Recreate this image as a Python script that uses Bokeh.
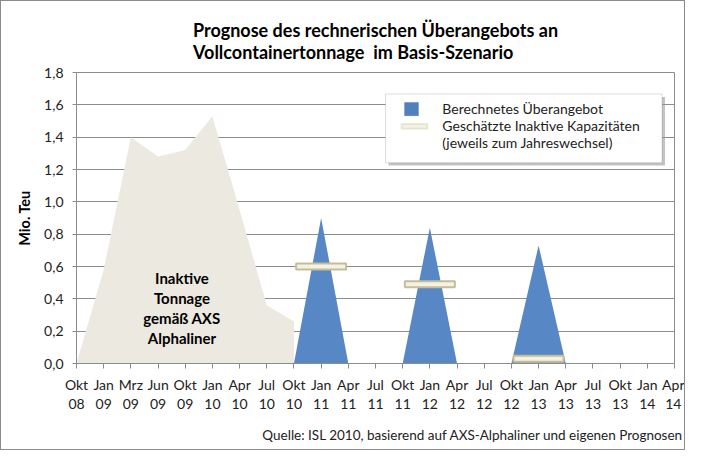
from bokeh.plotting import figure
from bokeh.models import (Range1d, FixedTicker, CustomJSTickFormatter, Label, Title,
                          BoxAnnotation)
from bokeh.embed import file_html
from bokeh.resources import INLINE

# ---------------- data ----------------
x_labels = ["Okt\n08", "Jan\n09", "Mrz\n09", "Jun\n09", "Okt\n09", "Jan\n10", "Apr\n10",
            "Jul\n10", "Okt\n10", "Jan\n11", "Apr\n11", "Jul\n11", "Okt\n11", "Jan\n12",
            "Apr\n12", "Jul\n12", "Okt\n12", "Jan\n13", "Apr\n13", "Jul\n13", "Okt\n13",
            "Jan\n14", "Apr\n14"]

# Inactive tonnage (AXS Alphaliner), periods 0..8
inaktiv_x = [0, 1, 2, 3, 4, 5, 6, 7, 8]
inaktiv_val = [0.0, 0.58, 1.40, 1.28, 1.32, 1.53, 0.95, 0.36, 0.26]

# Calculated oversupply, periods 8..18
ueber_x = [8, 9, 10, 11, 12, 13, 14, 15, 16, 17, 18]
ueber_val = [0.0, 0.90, 0.0, 0.0, 0.0, 0.84, 0.0, 0.0, 0.0, 0.73, 0.0]

# Estimated inactive capacities at year change
kap_x = [9, 13, 17]
kap_val = [0.60, 0.49, 0.03]

y_ticks = [0.0, 0.2, 0.4, 0.6, 0.8, 1.0, 1.2, 1.4, 1.6, 1.8]

FONT = "Lato"
GREY_AREA = "#ECE9E1"
BLUE = "#5787C5"
CREAM = "#F4F2E4"
KHAKI = "#C4BD97"
GRID = "#8C8C8C"

p = figure(width=685, height=450, x_range=Range1d(0, 22), y_range=Range1d(0, 1.8),
           output_backend="svg", toolbar_location=None,
           min_border_left=75, min_border_right=12, min_border_top=71, min_border_bottom=83)
p.styles = {"border": "1px solid #8c8c8c"}
p.background_fill_color = "white"
p.border_fill_color = "white"
p.outline_line_color = GRID
p.outline_line_width = 1

# title
p.title.text = "Prognose des rechnerischen Überangebots an\nVollcontainertonnage\u00a0 im Basis-Szenario"
p.title.align = "center"
p.title.text_font = FONT
p.title.text_font_size = "18px"
p.title.text_font_style = "bold"
p.title.text_line_height = 1.02
p.title.text_color = "black"
p.title.standoff = 18

# glyphs
p.varea(x=inaktiv_x, y1=0, y2=inaktiv_val, fill_color=GREY_AREA)
p.varea(x=ueber_x, y1=0, y2=ueber_val, fill_color=BLUE)
p.rect(x=kap_x, y=kap_val, width=50, height=6, width_units="screen", height_units="screen",
       fill_color=CREAM, line_color=KHAKI, line_width=2)

# axes
p.xaxis.ticker = FixedTicker(ticks=list(range(len(x_labels))))
p.xaxis.major_label_overrides = {i: lab for i, lab in enumerate(x_labels)}
p.xaxis.minor_tick_line_color = None
p.xaxis.major_tick_in = 0
p.xaxis.major_tick_out = 5
p.xaxis.axis_line_color = GRID
p.xaxis.major_tick_line_color = GRID
p.xaxis.major_label_text_font = FONT
p.xaxis.major_label_text_font_size = "14px"
p.xaxis.major_label_text_color = "#222222"
p.xaxis.major_label_text_line_height = 1.15
p.xaxis.major_label_standoff = 7

p.yaxis.ticker = FixedTicker(ticks=y_ticks)
p.yaxis.formatter = CustomJSTickFormatter(code="return tick.toFixed(1).replace('.', ',');")
p.yaxis.minor_tick_line_color = None
p.yaxis.major_tick_in = 0
p.yaxis.major_tick_out = 4
p.yaxis.axis_line_color = GRID
p.yaxis.major_tick_line_color = GRID
p.yaxis.major_label_text_font = FONT
p.yaxis.major_label_text_font_size = "14px"
p.yaxis.major_label_text_color = "#222222"
p.yaxis.major_label_standoff = 9
p.yaxis.axis_label = "Mio. Teu"
p.yaxis.axis_label_text_font = FONT
p.yaxis.axis_label_text_font_size = "14.5px"
p.yaxis.axis_label_text_font_style = "bold"
p.yaxis.axis_label_text_color = "black"
p.yaxis.axis_label_standoff = 8

p.xgrid.visible = False
p.ygrid.ticker = FixedTicker(ticks=y_ticks)
p.ygrid.grid_line_color = GRID
p.ygrid.grid_line_width = 1

# inside annotation
p.add_layout(Label(x=3.88, y=0.342, text="Inaktive\nTonnage\ngemäß AXS\nAlphaliner",
                   text_align="center", text_baseline="middle", text_font=FONT,
                   text_font_size="15px", text_font_style="bold", text_line_height=1.12,
                   text_color="black"))

# legend (manual)
p.add_layout(BoxAnnotation(left=11.48, right=21.65, top=1.649, bottom=1.224,
                           fill_color="#9a9a9a", fill_alpha=0.6, line_color=None))
p.add_layout(BoxAnnotation(left=11.37, right=21.54, top=1.667, bottom=1.242,
                           fill_color="white", fill_alpha=1.0, line_color="#8a8a8a", line_width=1))
p.add_layout(BoxAnnotation(left=12.07, right=12.58, top=1.615, bottom=1.533,
                           fill_color="#4F81BD", fill_alpha=1.0, line_color="#385D8A", line_width=1))
p.add_layout(BoxAnnotation(left=11.96, right=12.91, top=1.481, bottom=1.452,
                           fill_color=CREAM, fill_alpha=1.0, line_color=KHAKI, line_width=2))
legend_texts = ["Berechnetes Überangebot", "Geschätzte Inaktive Kapazitäten",
                "(jeweils zum Jahreswechsel)"]
legend_y = [1.576, 1.470, 1.364]
for t, yy in zip(legend_texts, legend_y):
    p.add_layout(Label(x=13.46, y=yy, text=t, text_font=FONT, text_font_size="14px",
                       text_baseline="middle", text_align="left", text_color="#222222"))

# source
p.add_layout(Title(text="Quelle: ISL 2010, basierend auf AXS-Alphaliner und eigenen Prognosen",
                   align="right", text_font=FONT, text_font_size="13.5px",
                   text_font_style="normal", text_color="#222222", offset=-9,
                   standoff=18), "below")

open("out.html", "w").write(file_html(p, INLINE))
